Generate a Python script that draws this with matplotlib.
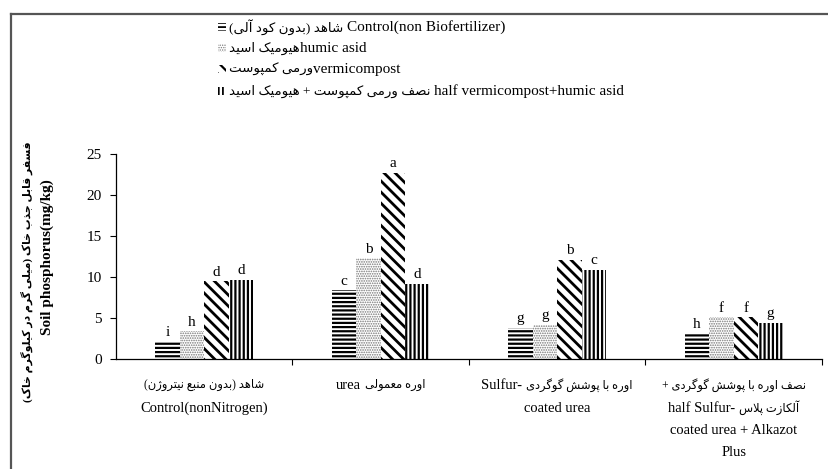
import matplotlib
matplotlib.use("Agg")
import matplotlib.pyplot as plt
from matplotlib.patches import Rectangle
from matplotlib.lines import Line2D
import numpy as np

# ---------------- data ----------------
categories = ["control", "urea", "scu", "half_scu_alkazot"]
control_vals = [2.1, 8.4, 3.8, 3.1]
humic_vals = [3.4, 12.3, 4.2, 5.1]
vermi_vals = [9.5, 22.7, 12.1, 5.1]
half_vals = [9.7, 9.2, 10.9, 4.4]
control_letters = ["i", "c", "g", "h"]
humic_letters = ["h", "b", "g", "f"]
vermi_letters = ["d", "a", "b", "f"]
half_letters = ["d", "d", "c", "g"]
yticks = [0, 5, 10, 15, 20, 25]

# category labels: lines of (text, script) segments
cat_label_lines = [
    [[("شاهد (بدون منبع نیتروژن)", "fa")], [("Control(nonNitrogen)", "en")]],
    [[("urea", "en"), ("اوره معمولی", "fa")]],
    [[("Sulfur-", "en"), ("اوره با پوشش گوگردی", "fa")], [("coated urea", "en")]],
    [[("نصف اوره با پوشش گوگردی +", "fa")],
     [("half Sulfur-", "en"), ("آلکازت پلاس", "fa")],
     [("coated urea + Alkazot", "en")],
     [("Plus", "en")]],
]
series_names = [
    [("شاهد (بدون کود آلی)", "fa"), ("Control(non Biofertilizer)", "en")],
    [("هیومیک اسید", "fa"), ("humic asid", "en")],
    [("ورمی کمپوست", "fa"), ("vermicompost", "en")],
    [("نصف ورمی کمپوست + هیومیک اسید", "fa"), ("half vermicompost+humic asid", "en")],
]
ylabel_fa = "فسفر قابل جذب خاک (میلی گرم در کیلوگرم خاک)"
ylabel_en = "Soil phosphorus(mg/kg)"

# ---------------- minimal Persian shaping (display only) ----------------
def _q(b):
    return (b, b + 1, b + 2, b + 3)

FORMS = {
    'ا': (0xFE8D, 0xFE8E), 'آ': (0xFE81, 0xFE82), 'ب': _q(0xFE8F), 'پ': _q(0xFB56),
    'ت': _q(0xFE95), 'ث': _q(0xFE99), 'ج': _q(0xFE9D), 'چ': _q(0xFB7A), 'ح': _q(0xFEA1),
    'خ': _q(0xFEA5), 'د': (0xFEA9, 0xFEAA), 'ذ': (0xFEAB, 0xFEAC), 'ر': (0xFEAD, 0xFEAE),
    'ز': (0xFEAF, 0xFEB0), 'ژ': (0xFB8A, 0xFB8B), 'س': _q(0xFEB1), 'ش': _q(0xFEB5),
    'ص': _q(0xFEB9), 'ض': _q(0xFEBD), 'ط': _q(0xFEC1), 'ظ': _q(0xFEC5), 'ع': _q(0xFEC9),
    'غ': _q(0xFECD), 'ف': _q(0xFED1), 'ق': _q(0xFED5), 'ک': _q(0xFB8E), 'گ': _q(0xFB92),
    'ل': _q(0xFEDD), 'م': _q(0xFEE1), 'ن': _q(0xFEE5), 'و': (0xFEED, 0xFEEE),
    'ه': _q(0xFEE9), 'ی': _q(0xFBFC),
}
LAMALEF = {'ا': (0xFEFB, 0xFEFC), 'آ': (0xFEF5, 0xFEF6)}

def _dual(c):
    return c in FORMS and len(FORMS[c]) == 4

def shape(s):
    out = []
    i, n = 0, len(s)
    while i < n:
        c = s[i]
        if c not in FORMS:
            out.append(c)
            i += 1
            continue
        prev = s[i - 1] if i > 0 else ''
        jp = _dual(prev)
        if c == 'ل' and i + 1 < n and s[i + 1] in LAMALEF:
            iso, fin = LAMALEF[s[i + 1]]
            out.append(chr(fin if jp else iso))
            i += 2
            continue
        nxt = s[i + 1] if i + 1 < n else ''
        jn = _dual(c) and (nxt in FORMS)
        f = FORMS[c]
        if jp and jn:
            g = f[3]
        elif jp:
            g = f[1]
        elif jn:
            g = f[2]
        else:
            g = f[0]
        out.append(chr(g))
        i += 1
    return ''.join(out)

def rtl(s):
    return shape(s)[::-1].translate(str.maketrans({'(': ')', ')': '('}))

FAM = ["Liberation Serif", "DejaVu Sans"]
plt.rcParams['font.family'] = FAM

# ---------------- figure ----------------
W, H = 829, 469
fig = plt.figure(figsize=(W / 100, H / 100), dpi=100)
fig.patch.set_facecolor("white")
renderer = fig.canvas.get_renderer()

def fx(px):
    return px / W

def fy(py):
    return 1 - py / H

def seg_line(segs, x0, y0, en_size, fa_size, ha='center', gap=4):
    """Place a line made of Latin / Persian segments; x0,y0 in top-left pixels."""
    texts = []
    for txt, kind in segs:
        s = rtl(txt) if kind == "fa" else txt
        fs = fa_size if kind == "fa" else en_size
        texts.append(fig.text(0, 0, s, fontsize=fs, family=FAM, ha='left', va='center'))
    widths = [t.get_window_extent(renderer).width for t in texts]
    total = sum(widths) + gap * (len(texts) - 1)
    start = x0 - total / 2 if ha == 'center' else x0
    for t, w in zip(texts, widths):
        t.set_position((fx(start), fy(y0)))
        start += w + gap

ax = fig.add_axes([fx(116), fy(359.3), fx(822) - fx(116), fy(154) - fy(359.3)])

styles = [
    dict(hatch='----', color='white', edgecolor='black', hlw=1.6),
    dict(hatch='.......', color='white', edgecolor='#777777', hlw=0.8),
    dict(hatch='\\\\\\', color='white', edgecolor='black', hlw=2.0),
    dict(hatch='||||', color='white', edgecolor='black', hlw=1.6),
]

series = [control_vals, humic_vals, vermi_vals, half_vals]
letters = [control_letters, humic_letters, vermi_letters, half_letters]
x = np.arange(len(categories))
bw = 0.139

for k, (vals, st, lets) in enumerate(zip(series, styles, letters)):
    with plt.rc_context({'hatch.linewidth': st['hlw']}):
        bars = ax.bar(x + (k - 1.5) * bw, vals, bw, color=st['color'],
                      edgecolor=st['edgecolor'], hatch=st['hatch'], linewidth=0)
    for b in bars:
        if hasattr(b, 'set_hatch_linewidth'):
            b.set_hatch_linewidth(st['hlw'])
    for xi, v, t in zip(x + (k - 1.5) * bw, vals, lets):
        ax.annotate(t, (xi, v), xytext=(0, 2), textcoords='offset points',
                    ha='center', va='bottom', fontsize=11, family=FAM)

ax.set_xlim(-0.5, 3.5)
ax.set_ylim(0, 25)
ax.set_yticks(yticks)
ax.set_yticklabels([str(t) for t in yticks], fontsize=11)
ax.set_xticks([0.5, 1.5, 2.5, 3.5])
ax.set_xticklabels([])
ax.tick_params(axis='x', which='major', length=4, width=0.8, direction='out')
ax.tick_params(axis='y', length=4, width=0.8, direction='out', pad=6)
for s in ['top', 'right']:
    ax.spines[s].set_visible(False)
for s in ['left', 'bottom']:
    ax.spines[s].set_linewidth(0.9)

# category labels under the axis
line_y = [385, 408, 431, 452]
for xi, lines in zip(x, cat_label_lines):
    cx = ax.transData.transform((xi, 0))[0]
    for li, segs in enumerate(lines):
        seg_line(segs, cx, line_y[li], en_size=10.5, fa_size=8.3)

# y labels (two rotated lines)
fig.text(fx(27), fy(272), rtl(ylabel_fa), rotation=90, ha='center', va='center',
         fontsize=7.8, fontweight='bold', family=FAM)
fig.text(fx(47), fy(257), ylabel_en, rotation=90, ha='center', va='center',
         fontsize=11, fontweight='bold', family=FAM)

# legend (manual, top)
row_y = [27, 48, 69, 91]
row_gap = [4, 0, 0, 4]
for segs, st, yy, g in zip(series_names, styles, row_y, row_gap):
    with plt.rc_context({'hatch.linewidth': st['hlw'] * 0.8}):
        r = Rectangle((fx(218), fy(yy + 4)), fx(226) - fx(218), fy(yy - 4) - fy(yy + 4),
                      transform=fig.transFigure, facecolor='white',
                      edgecolor=st['edgecolor'], hatch=st['hatch'], linewidth=0)
    fig.add_artist(r)
    seg_line(segs, 229, yy, en_size=11, fa_size=9.6, ha='left', gap=g)

# figure border (top and left edges visible)
fig.add_artist(Line2D([fx(11), 1], [fy(14), fy(14)], color='#555555', lw=1.6,
                      transform=fig.transFigure))
fig.add_artist(Line2D([fx(11), fx(11)], [fy(14), 0], color='#555555', lw=1.6,
                      transform=fig.transFigure))

fig.savefig("out.png", dpi=100, facecolor="white")
